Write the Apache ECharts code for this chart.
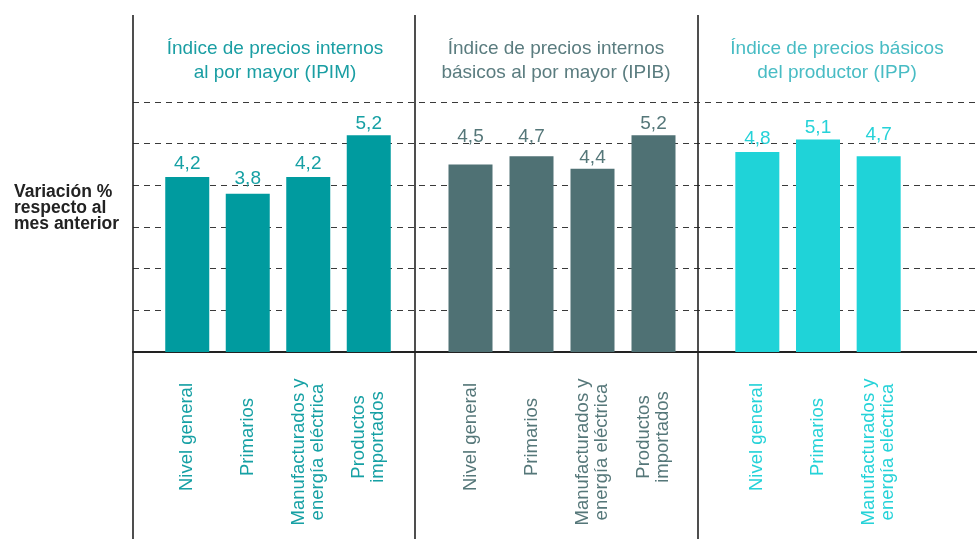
<!DOCTYPE html>
<html>
<head>
<meta charset="utf-8">
<script src="https://cdn.jsdelivr.net/npm/echarts@6/dist/echarts.min.js"></script>
<style>
  html, body { margin: 0; padding: 0; background: #fff; }
  #chart { width: 977px; height: 539px; }
</style>
</head>
<body>
<div id="chart"></div>
<script>
// categorias y valores (variación % respecto al mes anterior)
const categoriasIPIM = ["Nivel general", "Primarios", "Manufacturados y\nenergía eléctrica", "Productos\nimportados"];
const valoresIPIM = [4.2, 3.8, 4.2, 5.2];
const categoriasIPIB = ["Nivel general", "Primarios", "Manufacturados y\nenergía eléctrica", "Productos\nimportados"];
const valoresIPIB = [4.5, 4.7, 4.4, 5.2];
const categoriasIPP = ["Nivel general", "Primarios", "Manufacturados y\nenergía eléctrica"];
const valoresIPP = [4.8, 5.1, 4.7];
const titulos = [
  "Índice de precios internos\nal por mayor (IPIM)",
  "Índice de precios internos\nbásicos al por mayor (IPIB)",
  "Índice de precios básicos\ndel productor (IPP)"
];
const ejeY = { min: 0, max: 6, interval: 1 };

const FONT = "'Liberation Sans', Arial, Helvetica, sans-serif";
const colores = ["#009b9f", "#4f7174", "#1fd3d8"];
const coloresTexto = ["#16a0a4", "#557779", "#25d2d8"];
const coloresTitulo = ["#1a9ea3", "#5a7c7f", "#48bcc4"];
// ajuste vertical de algunas etiquetas (como en el original)
const subirEtiqueta = [[1, 2, 1, -1], [15, 7, -2, -1], [1, -1, 9]];

const chart = echarts.init(document.getElementById("chart"), null, { renderer: "canvas" });

const paneles = [
  { cats: categoriasIPIM, vals: valoresIPIM, left: 157, width: 242, titleX: 275 },
  { cats: categoriasIPIB, vals: valoresIPIB, left: 440, width: 244, titleX: 556 },
  { cats: categoriasIPP, vals: valoresIPP, left: 727, width: 182, titleX: 837 }
];

const grids = [{ left: 133, right: 0, top: 102, height: 250 }];
const xAxes = [{
  gridIndex: 0, type: "value", min: 0, max: 1,
  axisLine: { show: true, onZero: false, lineStyle: { color: "#222", width: 2 } },
  axisTick: { show: false }, axisLabel: { show: false }, splitLine: { show: false }
}];
const yAxes = [{
  gridIndex: 0, type: "value", min: ejeY.min, max: ejeY.max, interval: ejeY.interval,
  axisLine: { show: false }, axisTick: { show: false }, axisLabel: { show: false },
  splitLine: { show: true, lineStyle: { color: "#3a3a3a", width: 1, type: [6, 5] } }
}];
const series = [];
const titles = [{
  text: "Variación %\nrespecto al\nmes anterior",
  left: 14, top: 184, padding: 0,
  textStyle: { fontFamily: FONT, fontSize: 17.5, fontWeight: "bold", lineHeight: 16, color: "#222" }
}];

paneles.forEach((p, i) => {
  const g = i + 1;
  grids.push({ left: p.left, width: p.width, top: 102, height: 250 });
  xAxes.push({
    gridIndex: g, type: "category", data: p.cats,
    axisLine: { show: false }, axisTick: { show: false }, splitLine: { show: false },
    axisLabel: {
      interval: 0, rotate: 90, align: "center", verticalAlign: "middle", margin: 85,
      fontFamily: FONT, fontSize: 18.5, lineHeight: 19, color: coloresTexto[i],
      formatter: (v) => v.indexOf("Manufacturados") === 0 ? "{m|" + v + "}" : v,
      rich: {
        m: { fontFamily: FONT, fontSize: 18.5, lineHeight: 19, color: coloresTexto[i], padding: [0, 30, 0, 0] }
      }
    }
  });
  yAxes.push({
    gridIndex: g, type: "value", min: ejeY.min, max: ejeY.max, interval: ejeY.interval,
    show: false, splitLine: { show: false }
  });
  series.push({
    type: "bar", xAxisIndex: g, yAxisIndex: g, barWidth: 44,
    itemStyle: { color: colores[i] },
    data: p.vals.map((v, k) => ({ value: v, label: { offset: [0, -subirEtiqueta[i][k]] } })),
    label: {
      show: true, position: "top", distance: 3,
      fontFamily: FONT, fontSize: 19, color: coloresTexto[i],
      formatter: (d) => String(d.value).replace(".", ",")
    },
    emphasis: { disabled: true },
    animation: false
  });
  titles.push({
    text: titulos[i], left: p.titleX, top: 37, textAlign: "center", padding: 0,
    textStyle: { fontFamily: FONT, fontSize: 19, fontWeight: "normal", lineHeight: 24, color: coloresTitulo[i] }
  });
});

chart.setOption({
  animation: false,
  title: titles,
  grid: grids,
  xAxis: xAxes,
  yAxis: yAxes,
  series: series,
  graphic: [133, 415, 698].map((x) => ({
    type: "line", silent: true, z: 10,
    shape: { x1: x, y1: 15, x2: x, y2: 539 },
    style: { stroke: "#222", lineWidth: 1.6 }
  }))
});

window.addEventListener("resize", () => chart.resize());
</script>
</body>
</html>
